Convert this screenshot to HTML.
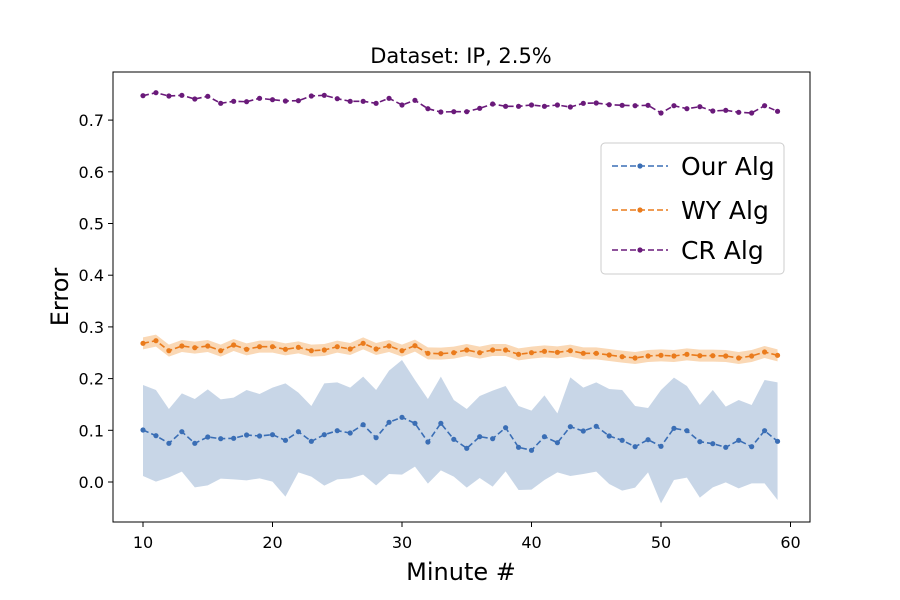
<!DOCTYPE html>
<html><head><meta charset="utf-8"><style>body{margin:0;background:#fff}svg{display:block}text{font-family:"DejaVu Sans","Liberation Sans",sans-serif;fill:#000}</style></head>
<body><svg id="s" width="900" height="600" xmlns="http://www.w3.org/2000/svg"></svg>
<script>
const X=m=>143+12.95*(m-10);
const bp=[300,317,340,305,340,321,326,325,315,318,314,331,305,334,314,302,309,284,323,277,262,280,336,280,328,355,320,326,293,352,361,320,338,290,303,289,318,331,350,329,349,295,302,335,341,352,331,350,302,334].map(v=>330+v/3);
const bu=[165,180,237,190,207,178,208,203,180,192,173,160,188,228,160,157,173,140,180,122,90,150,207,140,210,237,198,182,168,228,242,196,250,142,173,157,177,180,228,234,180,143,168,225,180,230,210,225,150,157].map(v=>330+v/3);
const bl=[438,455,442,425,472,466,446,448,451,445,455,500,427,440,467,448,445,434,466,432,434,410,461,421,440,473,444,470,424,480,479,450,427,438,432,425,462,482,473,427,520,450,443,503,472,457,475,460,460,510].map(v=>330+v/3);
const op=[40,32,62,48,53,48,62,45,58,50,50,58,52,62,60,50,57,40,57,48,62,47,70,71,68,60,68,60,60,73,68,64,67,62,70,70,75,80,84,78,76,78,73,77,77,78,84,78,66,76].map(v=>330+v/3);
const pp=[47,38,48,46,57,49,70,64,65,55,59,63,62,48,46,56,64,64,70,55,75,61,86,96,95,95,85,72,79,79,75,79,75,81,70,69,74,76,77,76,99,77,86,80,93,91,97,99,77,94].map(v=>80+v/3);
let h='';
const pts=a=>a.map((y,i)=>X(10+i).toFixed(1)+','+y.toFixed(1)).join(' ');
function bandP(u,l,c,o){let p=u.map((y,i)=>X(10+i)+','+y);for(let i=l.length-1;i>=0;i--)p.push(X(10+i)+','+l[i]);return `<polygon points="${p.join(' ')}" fill="${c}" fill-opacity="${o}"/>`;}
h+=bandP(bu,bl,'#4a76b0',0.3);
h+=bandP(op.map(y=>y-6),op.map(y=>y+6),'#f28e2b',0.35);
function line(a,c){let s=`<polyline points="${pts(a)}" fill="none" stroke="${c}" stroke-width="1.6" stroke-dasharray="6,3"/>`;a.forEach((y,i)=>s+=`<circle cx="${X(10+i)}" cy="${y}" r="2.6" fill="${c}"/>`);return s;}
h+=line(bp,'#3a6eb5');h+=line(op,'#ea7b1c');h+=line(pp,'#6a1a7a');
h+=`<rect x="113" y="72" width="697" height="450" fill="none" stroke="#000" stroke-width="1"/>`;
for(let m=10;m<=60;m+=10){let x=X(m);h+=`<line x1="${x}" y1="522" x2="${x}" y2="527" stroke="#000"/><text x="${x}" y="548" font-size="16" text-anchor="middle">${m}</text>`;}
for(let k=0;k<=7;k++){let y=482-k*51.7;h+=`<line x1="108" y1="${y}" x2="113" y2="${y}" stroke="#000"/><text x="104" y="${y+6}" font-size="16" text-anchor="end">${(k/10).toFixed(1)}</text>`;}
h+=`<text x="461" y="63" font-size="21" text-anchor="middle">Dataset: IP, 2.5%</text>`;
h+=`<text x="461" y="580" font-size="24" text-anchor="middle">Minute #</text>`;
h+=`<text transform="translate(68,297) rotate(-90)" font-size="24" text-anchor="middle">Error</text>`;
h+=`<rect x="601" y="143" width="183" height="131" rx="4" fill="#fff" fill-opacity="0.85" stroke="#ccc"/>`;
[['Our Alg','#3a6eb5',166],['WY Alg','#ea7b1c',210],['CR Alg','#6a1a7a',250]].forEach(([t,c,y])=>{h+=`<line x1="612" y1="${y}" x2="668" y2="${y}" stroke="${c}" stroke-width="1.6" stroke-dasharray="6,3"/><circle cx="640" cy="${y}" r="2.6" fill="${c}"/><text x="681" y="${y+9}" font-size="25">${t}</text>`;});
document.getElementById('s').innerHTML=h;
</script></body></html>
